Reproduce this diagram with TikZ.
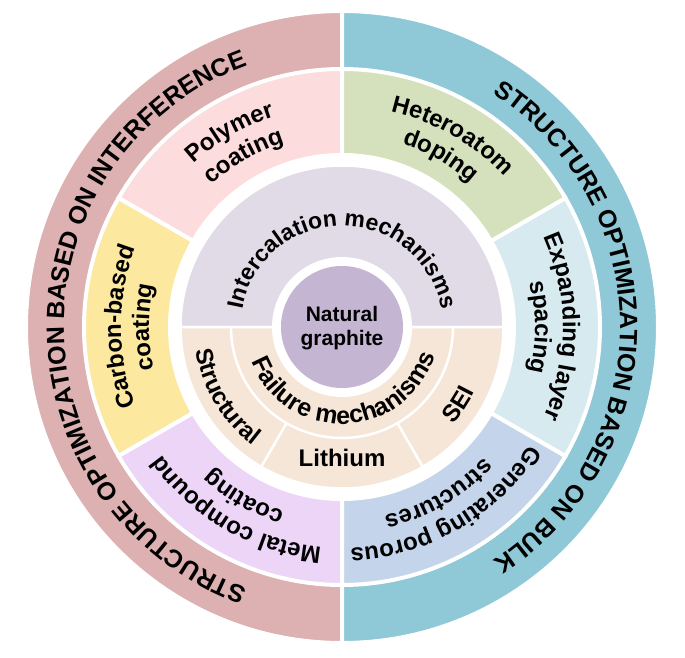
\documentclass[tikz,border=0pt]{standalone}
\usepackage{fontspec}
\setmainfont{Liberation Sans}
\usepackage{xcolor}
\usepackage{tikz}
\usetikzlibrary{decorations.text}

\definecolor{interfring}{HTML}{DDB0B1}
\definecolor{bulkring}{HTML}{8FC8D7}
\definecolor{polymer}{HTML}{FDDCDD}
\definecolor{hetero}{HTML}{D5E0BC}
\definecolor{expand}{HTML}{D7EAEF}
\definecolor{porous}{HTML}{C4D5EB}
\definecolor{metal}{HTML}{EDD5F7}
\definecolor{carbon}{HTML}{FCE89F}
\definecolor{intercal}{HTML}{E0DBE7}
\definecolor{failure}{HTML}{F6E6D7}
\definecolor{graphite}{HTML}{C4B5D3}

\newcommand{\ringfont}{\fontsize{25}{29}\selectfont\bfseries}
\newcommand{\secfont}{\fontsize{24}{27}\selectfont\bfseries}
\newcommand{\corefont}{\fontsize{23}{27}\selectfont\bfseries}
\newcommand{\failfont}{\fontsize{25}{28}\selectfont\bfseries}

\begin{document}
\begin{tikzpicture}[x=1pt, y=1pt,
  gap/.style={draw=white, line width=4pt},
  thin gap/.style={draw=white, line width=2.5pt},
  arclabel/.style={decorate, decoration={text along path, text align=center, text={#1}}},
  corelabel/.style={inner sep=0pt, font=\secfont}]
\useasboundingbox (-342,-330) rectangle (343,327);
\coordinate (c) at (0,0);
% outer ring
\filldraw[fill=interfring, gap] (c) -- (90:316) arc[start angle=90, end angle=270, radius=316] -- cycle;
\filldraw[fill=bulkring, gap] (c) -- (-90:316) arc[start angle=-90, end angle=90, radius=316] -- cycle;
% middle ring
\filldraw[fill=polymer, gap] (c) -- (90:258) arc[start angle=90, end angle=150, radius=258] -- cycle;
\filldraw[fill=carbon, gap] (c) -- (150:258) arc[start angle=150, end angle=210, radius=258] -- cycle;
\filldraw[fill=metal, gap] (c) -- (210:258) arc[start angle=210, end angle=270, radius=258] -- cycle;
\filldraw[fill=porous, gap] (c) -- (270:258) arc[start angle=270, end angle=330, radius=258] -- cycle;
\filldraw[fill=expand, gap] (c) -- (330:258) arc[start angle=330, end angle=390, radius=258] -- cycle;
\filldraw[fill=hetero, gap] (c) -- (30:258) arc[start angle=30, end angle=90, radius=258] -- cycle;
\fill[white] (c) circle[radius=174];
% mechanisms
\filldraw[fill=intercal, thin gap] (c) -- (0:161.5) arc[start angle=0, end angle=180, radius=161.5] -- cycle;
\filldraw[fill=failure, thin gap] (c) -- (180:161.5) arc[start angle=180, end angle=360, radius=161.5] -- cycle;
\draw[thin gap] (180:111) arc[start angle=180, end angle=360, radius=111];
\draw[thin gap] (240:111) -- (240:161);
\draw[thin gap] (300:111) -- (300:161);
\fill[white] (c) circle[radius=70];
\fill[graphite] (c) circle[radius=61];

% ring labels
\path[arclabel={|\ringfont|STRUCTURE OPTIMIZATION BASED ON INTERFERENCE}] (255:278) arc[start angle=255, end angle=105, radius=278];
\path[arclabel={|\ringfont|STRUCTURE OPTIMIZATION BASED ON BULK}] (75:278) arc[start angle=75, end angle=-75, radius=278];

% sector labels
\path[arclabel={|\secfont|Polymer}] (150:221) arc[start angle=150, end angle=90, radius=221];
\path[arclabel={|\secfont|coating}] (150:193) arc[start angle=150, end angle=90, radius=193];
\path[arclabel={|\secfont|Heteroatom}] (90:221) arc[start angle=90, end angle=30, radius=221];
\path[arclabel={|\secfont|doping}] (90:193) arc[start angle=90, end angle=30, radius=193];
\path[arclabel={|\secfont|Expanding layer}] (30:221) arc[start angle=30, end angle=-30, radius=221];
\path[arclabel={|\secfont|spacing}] (30:193) arc[start angle=30, end angle=-30, radius=193];
\path[arclabel={|\secfont|Generating porous}] (-30:221) arc[start angle=-30, end angle=-90, radius=221];
\path[arclabel={|\secfont|structures}] (-30:193) arc[start angle=-30, end angle=-90, radius=193];
\path[arclabel={|\secfont|Metal compound}] (-90:221) arc[start angle=-90, end angle=-150, radius=221];
\path[arclabel={|\secfont|coating}] (-90:193) arc[start angle=-90, end angle=-150, radius=193];
\path[arclabel={|\secfont|Carbon-based}] (210:221) arc[start angle=210, end angle=150, radius=221];
\path[arclabel={|\secfont|coating}] (210:193) arc[start angle=210, end angle=150, radius=193];

% core labels
\path[arclabel={|\corefont|Intercalation mechanisms}] (179:101) arc[start angle=179, end angle=1, radius=101];
\path[arclabel={|\failfont|Failure mechanisms}] (183:97) arc[start angle=183, end angle=361, radius=97];
\path[arclabel={|\secfont|Structural}] (182:148) arc[start angle=182, end angle=240, radius=148];
\path[arclabel={|\secfont|SEI}] (-55:148) arc[start angle=-55, end angle=-12, radius=148];
\node[corelabel] (lithium) at (270:131) {Lithium};
\node[corelabel, align=center, font=\fontsize{21}{24}\selectfont\bfseries] (natgraphite) at (0,-1) {Natural\\graphite};
\end{tikzpicture}
\end{document}
